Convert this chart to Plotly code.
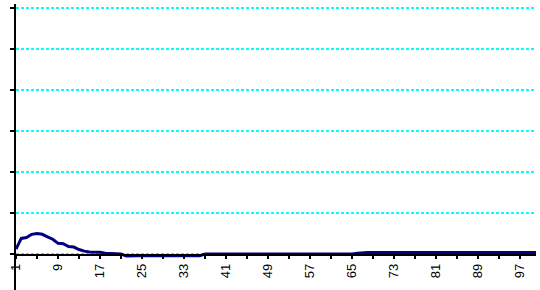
import plotly.graph_objects as go

categories = list(range(1, 101))
values = [
    0.12, 0.38, 0.40, 0.48, 0.50, 0.48, 0.42, 0.36, 0.26, 0.25,
    0.18, 0.17, 0.11, 0.07, 0.05, 0.05, 0.04, 0.02, 0.01, 0.01,
    0.00, -0.05, -0.04, -0.04, -0.04, -0.04, -0.04, -0.04, -0.04, -0.04,
    -0.04, -0.04, -0.04, -0.04, -0.04, -0.04, 0.00, 0.00, 0.00, 0.00,
    0.00, 0.00, 0.00, 0.00, 0.00, 0.00, 0.01, 0.00, 0.00, 0.00,
    0.00, 0.00, 0.00, 0.00, 0.00, 0.00, 0.00, 0.00, 0.00, 0.00,
    0.00, 0.00, 0.00, 0.00, 0.00, 0.02, 0.035, 0.035, 0.035, 0.035,
    0.035, 0.035, 0.035, 0.035, 0.035, 0.035, 0.035, 0.035, 0.035, 0.035,
    0.035, 0.035, 0.035, 0.035, 0.035, 0.035, 0.035, 0.035, 0.035, 0.035,
    0.035, 0.035, 0.035, 0.035, 0.035, 0.035, 0.035, 0.035, 0.035, 0.035,
]
x_tickvals = [1, 5, 9, 13, 17, 21, 25, 29, 33, 37, 41, 45, 49, 53, 57, 61, 65, 69, 73, 77, 81, 85, 89, 93, 97]
x_ticktext = ["1", "", "9", "", "17", "", "25", "", "33", "", "41", "", "49", "", "57", "", "65", "", "73", "", "81", "", "89", "", "97"]
y_tickvals = [0, 1, 2, 3, 4, 5, 6]

y_min, y_max = -36 / 41, 6 + 4 / 41

fig = go.Figure()
fig.add_trace(go.Scatter(
    x=categories, y=values, mode="lines",
    line=dict(color="#000080", width=3),
    hoverinfo="skip", showlegend=False,
))

# vertical axis line drawn only from the top gridline down, like the reference
fig.update_layout(
    width=540, height=290,
    margin=dict(l=16, r=4, t=4, b=0, autoexpand=False),
    paper_bgcolor="white", plot_bgcolor="white",
    font=dict(family="Liberation Sans, Arial, sans-serif", size=13, color="black"),
    xaxis=dict(
        range=[1, 100],
        tickmode="array", tickvals=x_tickvals, ticktext=x_ticktext,
        tickangle=-90,
        ticks="outside", ticklen=3, tickwidth=1.5, tickcolor="black",
        showline=True, linecolor="black", linewidth=1.5,
        showgrid=False, zeroline=False, automargin=False,
        anchor="free", position=(0 - y_min) / (y_max - y_min),
    ),
    yaxis=dict(
        range=[y_min, y_max],
        tickmode="array", tickvals=y_tickvals,
        showticklabels=False,
        ticks="outside", ticklen=4, tickwidth=2, tickcolor="black",
        showline=True, linecolor="black", linewidth=2,
        showgrid=True, gridcolor="#00FFFF", gridwidth=1.5, griddash="3px,2px",
        zeroline=False, automargin=False,
    ),
)

fig.write_html("out.html", config={"displayModeBar": False, "staticPlot": True},
               post_script="document.body.style.margin='0';")
